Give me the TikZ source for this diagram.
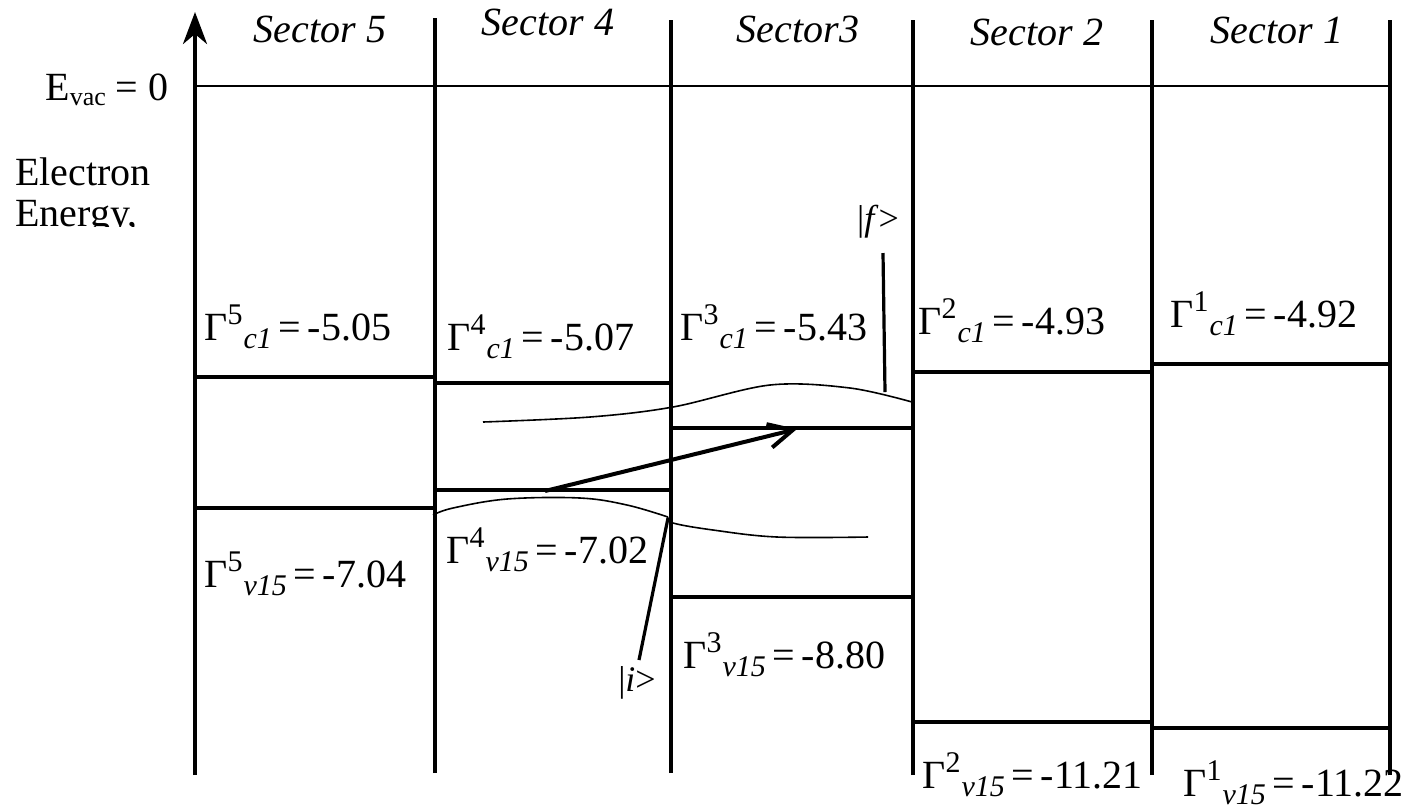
\documentclass[tikz,border=0pt]{standalone}
\usepackage{fontspec}
\setmainfont{Liberation Serif}
\usetikzlibrary{arrows.meta}
\newcommand\glev[3]{Γ\textsuperscript{\fontsize{15}{18}\selectfont #1}\raisebox{-0.45ex}{\fontsize{15}{18}\selectfont\itshape #2}\,=\,#3}
\begin{document}
\begin{tikzpicture}[x=0.5pt,y=-0.5pt,
  lev/.style={line width=2pt},
  wall/.style={line width=2pt},
  vac/.style={line width=0.9pt},
  wave/.style={line width=0.8pt},
  pointer/.style={line width=1.6pt},
  lab/.style={anchor=base west,inner sep=0pt,font=\fontsize{20}{24}\selectfont},
  sec/.style={anchor=base,inner sep=0pt,font=\fontsize{20}{24}\selectfont\itshape},
  side/.style={anchor=base west,inner sep=0pt,font=\fontsize{20}{24}\selectfont},
  ket/.style={anchor=center,inner sep=0pt,font=\fontsize{18}{22}\selectfont},
]
\useasboundingbox (0,0) rectangle (1407,811);

% sector boundaries
\coordinate (a0) at (195,775); \coordinate (a1) at (195,12);
\coordinate (b0) at (435,773); \coordinate (b1) at (435,18);
\coordinate (c0) at (671,773); \coordinate (c1) at (671,20);
\coordinate (d0) at (913,775); \coordinate (d1) at (913,20);
\coordinate (e0) at (1152,775); \coordinate (e1) at (1152,20);
\coordinate (f0) at (1390,775); \coordinate (f1) at (1390,20);
\draw[wall,-{Stealth[length=16pt,width=12pt,inset=5pt]}] (a0) -- (a1);
\draw[wall] (b0) -- (b1);
\draw[wall] (c0) -- (c1);
\draw[wall] (d0) -- (d1);
\draw[wall] (e0) -- (e1);
\draw[wall] (f0) -- (f1);

% vacuum level
\draw[vac] (195,86) -- (1390,86);

% sector labels
\node[sec] (s5) at (320,42) {Sector 5};
\node[sec] (s4) at (548,35) {Sector 4};
\node[sec] (s3) at (798,42) {Sector3};
\node[sec] (s2) at (1037,45) {Sector 2};
\node[sec] (s1) at (1277,43) {Sector 1};

% left labels
\node[side] (evac) at (45,100) {E\raisebox{-0.3ex}{\fontsize{13}{15}\selectfont vac} = 0};
\begin{scope}
\clip (0,0) rectangle (190,226);
\node[side] (el) at (15,185) {Electron};
\node[side] (en) at (15,226) {Energy,};
\end{scope}

% conduction levels
\draw[lev] (195,377) -- (435,377);
\draw[lev] (435,383) -- (671,383);
\draw[lev] (671,428) -- (913,428);
\draw[lev] (913,372) -- (1152,372);
\draw[lev] (1152,364) -- (1390,364);
% valence levels
\draw[lev] (195,508) -- (435,508);
\draw[lev] (435,490) -- (671,490);
\draw[lev] (671,597) -- (913,597);
\draw[lev] (913,722) -- (1152,722);
\draw[lev] (1152,728) -- (1390,728);

% level labels
\node[lab] (g5c) at (204,340) {\glev{5}{c1}{-5.05}};
\node[lab] (g4c) at (447,350) {\glev{4}{c1}{-5.07}};
\node[lab] (g3c) at (680,340) {\glev{3}{c1}{-5.43}};
\node[lab] (g2c) at (918,334) {\glev{2}{c1}{-4.93}};
\node[lab] (g1c) at (1170,327) {\glev{1}{c1}{-4.92}};
\node[lab] (g5v) at (204,587) {\glev{5}{v15}{-7.04}};
\node[lab] (g4v) at (446,563) {\glev{4}{v15}{-7.02}};
\node[lab] (g3v) at (683,668) {\glev{3}{v15}{-8.80}};
\node[lab] (g2v) at (922,788) {\glev{2}{v15}{-11.21}};
\node[lab] (g1v) at (1183,796) {\glev{1}{v15}{-11.22}};

% wavefunctions
\draw[wave] plot[smooth,tension=0.55] coordinates {(483,422) (590,417) (673,407) (770,385) (850,388) (912,402)};
\draw[wave] plot[smooth,tension=0.6] coordinates {(433,515) (453,508) (507,499) (580,498) (627,505) (668,517)};
\draw[wave] plot[smooth,tension=0.6] coordinates {(668,517) (673,523) (713,530) (777,537) (868,537)};

% transition arrow
\coordinate (ti) at (545,491);
\coordinate (tf) at (797,429);
\draw[line width=2pt,-{Straight Barb[length=12pt,width=12pt,line width=2pt]}] (ti) -- (tf);

% ket labels and pointers
\node[ket] (kf) at (878,222) {|\textit{f}>};
\coordinate (fb) at (885,392);
\coordinate (ft) at (883,253);
\draw[pointer] (fb) -- (ft);
\node[ket] (ki) at (637,683) {|\textit{i}>};
\coordinate (it) at (668,518);
\coordinate (ib) at (639,660);
\draw[pointer] (it) -- (ib);
\end{tikzpicture}
\end{document}
